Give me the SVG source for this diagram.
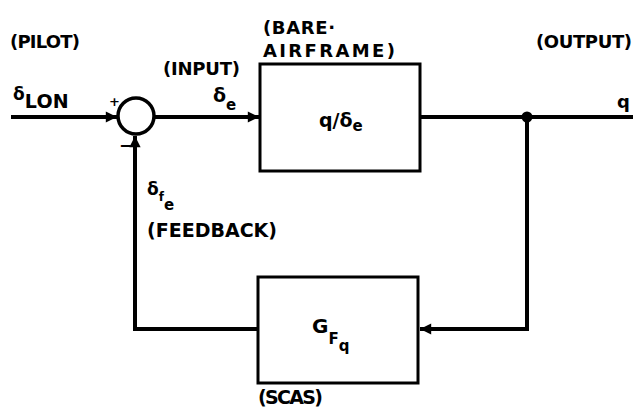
<svg xmlns="http://www.w3.org/2000/svg" width="634" height="407" viewBox="0 0 634 407">
<defs>
<style>
.t{font-family:"DejaVu Sans","Liberation Sans",Arial,sans-serif;font-weight:bold;font-size:18px;fill:#000}
.ln{fill:none;stroke:#000;stroke-width:4;stroke-linejoin:miter}
.bx{fill:#fff;stroke:#000;stroke-width:3}
</style>
<marker id="ah" viewBox="0 0 10 10" refX="10" refY="5" markerWidth="3.2" markerHeight="2.8" orient="auto" markerUnits="strokeWidth">
<path d="M0,0 L10,5 L0,10 z" fill="#000"/>
</marker>
</defs>
<rect width="634" height="407" fill="#fff"/>
<g id="connectors">
<line class="ln" x1="11" y1="117" x2="117" y2="117" marker-end="url(#ah)"/>
<line class="ln" x1="154" y1="117" x2="259" y2="117" marker-end="url(#ah)"/>
<line class="ln" x1="420" y1="117" x2="633" y2="117"/>
<polyline class="ln" points="527,117 527,329 420,329" marker-end="url(#ah)"/>
<polyline class="ln" points="258,329 135,329 135,136" marker-end="url(#ah)"/>
<circle cx="527" cy="117" r="5.5" fill="#000"/>
</g>
<g id="sum">
<circle cx="136" cy="116" r="18" fill="#fff" stroke="#000" stroke-width="3.5"/>
<text class="t" x="109" y="106" style="font-size:13px">+</text>
<text class="t" x="119" y="151" style="font-size:16px">−</text>
</g>
<g id="airframe">
<rect class="bx" x="260" y="64" width="160" height="107"/>
<text class="t" x="319" y="127" style="font-size:19px">q/δ<tspan dy="4" style="font-size:15px">e</tspan></text>
<text class="t" x="263" y="34" textLength="72" lengthAdjust="spacing">(BARE·</text>
<text class="t" x="263" y="57" textLength="132" lengthAdjust="spacing">AIRFRAME)</text>
</g>
<g id="scas">
<rect class="bx" x="258" y="277" width="160" height="106"/>
<text class="t" x="312" y="333" style="font-size:20px">G<tspan dy="11" style="font-size:15px">F</tspan><tspan dy="7" style="font-size:15px">q</tspan></text>
<text class="t" x="258" y="404" textLength="65" lengthAdjust="spacing" style="font-size:19px">(SCAS)</text>
</g>
<g id="labels">
<text class="t" x="10" y="48" textLength="70" lengthAdjust="spacing">(PILOT)</text>
<text class="t" x="536" y="48" textLength="96" lengthAdjust="spacing">(OUTPUT)</text>
<text class="t" x="163" y="75" textLength="77" lengthAdjust="spacing">(INPUT)</text>
<text class="t" x="13" y="100" style="font-size:17px">δ<tspan dy="8" style="font-size:19px" textLength="44" lengthAdjust="spacing">LON</tspan></text>
<text class="t" x="213" y="102" style="font-size:19px">δ<tspan dy="8" style="font-size:15px">e</tspan></text>
<text class="t" x="617" y="108" style="font-size:18px">q</text>
<text class="t" x="147" y="195" style="font-size:17px">δ<tspan dy="6" style="font-size:12px">f</tspan><tspan dy="9" style="font-size:15px">e</tspan></text>
<text class="t" x="147" y="237" textLength="130" lengthAdjust="spacing" style="font-size:19px">(FEEDBACK)</text>
</g>
</svg>
